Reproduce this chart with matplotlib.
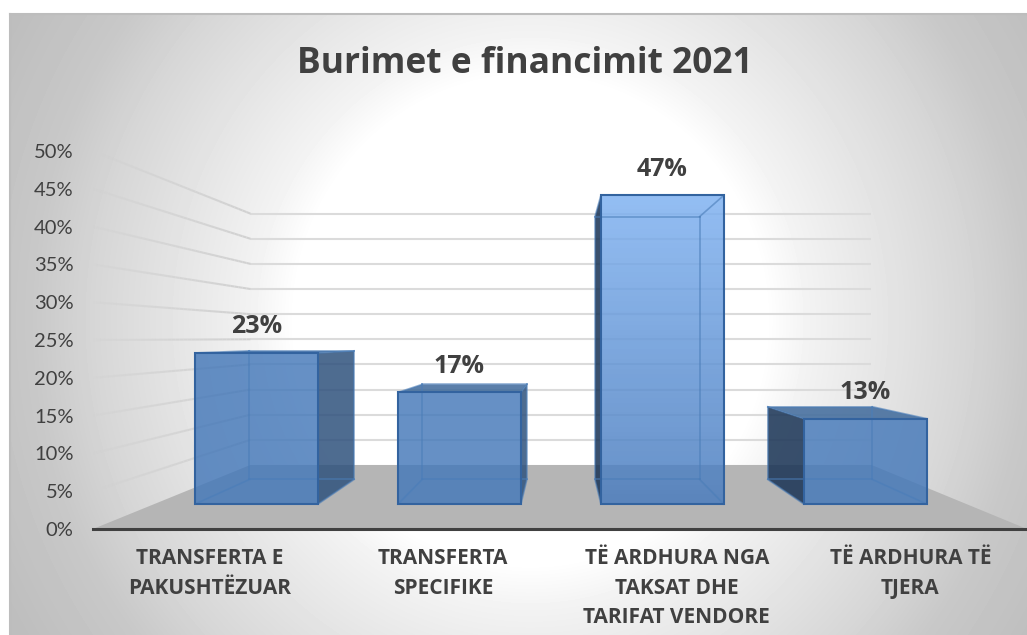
import numpy as np
import matplotlib
matplotlib.use("Agg")
import matplotlib.pyplot as plt
from matplotlib.patches import Polygon, Rectangle
from matplotlib.collections import LineCollection
from matplotlib.colors import LinearSegmentedColormap

title = "Burimet e financimit 2021"
categories = ["TRANSFERTA E\nPAKUSHTËZUAR", "TRANSFERTA\nSPECIFIKE",
              "TË ARDHURA NGA\nTAKSAT DHE\nTARIFAT VENDORE", "TË ARDHURA TË\nTJERA"]
values = [23.0, 17.0, 47.0, 13.0]
value_labels = ["23%", "17%", "47%", "13%"]
y_ticks = [0, 5, 10, 15, 20, 25, 30, 35, 40, 45, 50]

W, H = 1027, 635
TEXT = "#404040"
BOLD_FONT = ['Open Sans', 'DejaVu Sans']
plt.rcParams['font.family'] = ['Lato', 'DejaVu Sans']
fig = plt.figure(figsize=(W / 100, H / 100), dpi=100, facecolor="white")

# chart-area background gradient
bg = fig.add_axes([10 / W, 0, (W - 10) / W, (H - 14) / H], zorder=0)
yy, xx = np.mgrid[14:H, 10:W]
d = np.sqrt(((xx - 530) / 560.0) ** 2 + ((yy - 320) / 580.0) ** 2)
g = np.interp(d, [0.42, 0.5, 0.67, 0.78, 0.89, 1.05], [255, 242, 225, 214, 200, 190]) / 255
bg.imshow(g, cmap="gray", vmin=0, vmax=1, aspect="auto", interpolation="bilinear")
bg.set_axis_off()
fig.add_artist(plt.Line2D([10 / W, 10 / W], [0, (H - 14) / H], color="#bdbdbd", lw=1.5))
fig.add_artist(plt.Line2D([10 / W, 1], [(H - 14) / H] * 2, color="#bdbdbd", lw=1.5))

# main axes: x 0..4 categories along the front edge, y 0..50 along the left edge
ax = fig.add_axes([93 / W, (H - 529) / H, (W - 93) / W, 378 / H], zorder=1)
ax.patch.set_alpha(0)
ax.set_xlim(0, 4)
ax.set_ylim(0, 50)


def proj(x, v, plane):
    s, off = plane
    return (2 + (x - 2) * s + (0.004 if s < 1 else 0), off + s * v)


WALL_FRONT = (1.0, 0.0)
BAR_FRONT = (0.869, 3.3)
BAR_BACK = (0.74, 6.55)
WALL_BACK = (0.665, 8.47)

# floor
ax.add_patch(Polygon([proj(0, 0, WALL_FRONT), proj(4, 0, WALL_FRONT), proj(4, 0, WALL_BACK), proj(0, 0, WALL_BACK)],
                     closed=True, fc="#b5b5b5", ec="none", zorder=1, clip_on=False))

# gridlines: back wall plus fading left wall
GRID = (0.86, 0.86, 0.86)
for v in y_ticks[1:]:
    a = proj(0, v, WALL_BACK)
    b = proj(4, v, WALL_BACK)
    ax.plot([a[0], b[0]], [a[1], b[1]], color=GRID, lw=1.5, zorder=2, solid_capstyle="butt")
    f = proj(0, v, WALL_FRONT)
    ts = np.linspace(0, 1, 41)
    pts = np.column_stack([f[0] + (a[0] - f[0]) * ts, f[1] + (a[1] - f[1]) * ts])
    segs = np.stack([pts[:-1], pts[1:]], axis=1)
    cols = [(0.82, 0.82, 0.82, float(t)) for t in 0.15 + 0.85 * ts[:-1] ** 0.5]
    ax.add_collection(LineCollection(segs, colors=cols, linewidths=1.5, zorder=2), autolim=False)

# bars
FACE = (68 / 255, 120 / 255, 185 / 255, 0.82)
TOP = (62 / 255, 105 / 255, 155 / 255, 0.85)
RIGHT = (47 / 255, 82 / 255, 125 / 255, 0.85)
LEFT = (28 / 255, 54 / 255, 87 / 255, 0.87)
EDGE = "#33639f"
INNER = (74 / 255, 125 / 255, 184 / 255, 0.6)
HW = 0.303
grad = LinearSegmentedColormap.from_list("g", [(75 / 255, 125 / 255, 190 / 255), (128 / 255, 178 / 255, 241 / 255)])

for i, val in enumerate(values):
    c = i + 0.5
    l, r = c - HW, c + HW
    fb_l, fb_r = proj(l, 0, BAR_FRONT), proj(r, 0, BAR_FRONT)
    ft_l, ft_r = proj(l, val, BAR_FRONT), proj(r, val, BAR_FRONT)
    bb_l, bb_r = proj(l, 0, BAR_BACK), proj(r, 0, BAR_BACK)
    bt_l, bt_r = proj(l, val, BAR_BACK), proj(r, val, BAR_BACK)
    z = 3 + i
    # visible side and top faces
    if bb_l[0] < fb_l[0]:
        ax.add_patch(Polygon([fb_l, ft_l, bt_l, bb_l], fc=LEFT, ec="none", zorder=z))
    if bb_r[0] > fb_r[0]:
        ax.add_patch(Polygon([fb_r, ft_r, bt_r, bb_r], fc=RIGHT, ec="none", zorder=z))
    if bt_l[1] > ft_l[1]:
        ax.add_patch(Polygon([ft_l, ft_r, bt_r, bt_l], fc=TOP, ec="none", zorder=z))
    # front face
    if val == max(values):
        ax.imshow(np.linspace(1, 0, 64).reshape(-1, 1), cmap=grad, vmin=0, vmax=1, alpha=0.85, aspect="auto",
                  extent=(ft_l[0], ft_r[0], fb_l[1], ft_l[1]), zorder=z + 0.1)
    else:
        ax.add_patch(Rectangle(fb_l, ft_r[0] - fb_l[0], ft_r[1] - fb_l[1], fc=FACE, ec="none", zorder=z + 0.1))
    # inner edges
    for p, q in [(bb_l, bb_r), (bb_r, bt_r), (bt_r, bt_l), (bt_l, bb_l),
                 (fb_l, bb_l), (fb_r, bb_r), (ft_l, bt_l), (ft_r, bt_r)]:
        ax.plot([p[0], q[0]], [p[1], q[1]], color=INNER, lw=1.2, zorder=z + 0.2)
    # front outline
    ax.add_patch(Rectangle(fb_l, ft_r[0] - fb_l[0], ft_r[1] - fb_l[1], fc="none", ec=EDGE, lw=1.5, zorder=z + 0.3))
    ax.annotate(value_labels[i], xy=(proj(c, val, BAR_FRONT)[0], ft_l[1]), xytext=(0, 18.8),
                textcoords="offset points", ha="center", va="center", fontsize=18, fontweight="bold",
                family=BOLD_FONT, color=TEXT, zorder=10)

ax.set_xlim(0, 4)
ax.set_ylim(0, 50)
ax.set_yticks(y_ticks)
ax.set_yticklabels([f"{v}%" for v in y_ticks], fontsize=14.5, color=TEXT)
ax.set_xticks([i + 0.5 for i in range(len(categories))])
ax.set_xticklabels(categories, fontsize=15, fontweight="bold", family=BOLD_FONT, color=TEXT, linespacing=1.53)
ax.tick_params(axis="y", length=0, pad=14)
ax.tick_params(axis="x", length=0, pad=14)
for side in ["top", "left", "right"]:
    ax.spines[side].set_visible(False)
ax.spines["bottom"].set_color("#404040")
ax.spines["bottom"].set_linewidth(2.2)
ax.spines["bottom"].set_zorder(9)
ax.set_axisbelow(False)

fig.text(525 / W, 1 - 64 / H, title, ha="center", va="center", fontsize=25.5, fontweight="bold",
         family=BOLD_FONT, color=TEXT)
fig.savefig("out.png", dpi=100)
